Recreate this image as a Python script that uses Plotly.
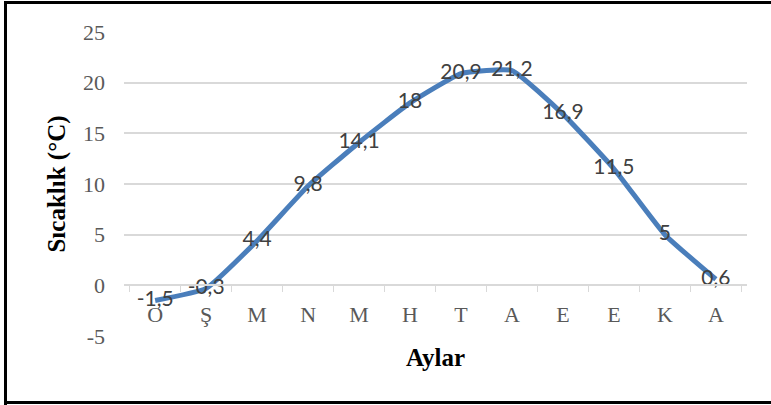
import plotly.graph_objects as go

months = ["Ocak", "Şubat", "Mart", "Nisan", "Mayıs", "Haziran", "Temmuz",
          "Ağustos", "Eylül", "Ekim", "Kasım", "Aralık"]
month_letters = ["O", "Ş", "M", "N", "M", "H", "T", "A", "E", "E", "K", "A"]
temperatures = [-1.5, -0.3, 4.4, 9.8, 14.1, 18, 20.9, 21.2, 16.9, 11.5, 5, 0.6]
y_ticks = [-5, 0, 5, 10, 15, 20, 25]
y_tick_text = ["-5", "0", "5", "10", "15", "20", "25"]

labels = [("%g" % v).replace(".", ",") for v in temperatures]

W, H = 771, 405
L, R, T, B = 124, 24, 32, 69
pw, ph = W - L - R, H - T - B

def px_x(px):
    return (px - L) / pw

def px_y(py):
    return (H - B - py) / ph

fig = go.Figure()
fig.add_trace(go.Scatter(
    x=months, y=temperatures, mode="lines+text",
    line=dict(color="#4a7ebb", width=5, shape="spline", smoothing=0.4),
    text=labels, textposition="middle center",
    textfont=dict(family="Lato", size=21, color="#404040"),
    cliponaxis=False, hoverinfo="skip", showlegend=False,
))

border = dict(color="black", width=3)
fig.add_shape(type="line", xref="paper", yref="paper",
              x0=px_x(5.5), x1=px_x(5.5), y0=px_y(1), y1=px_y(406), line=border)
fig.add_shape(type="line", xref="paper", yref="paper",
              x0=px_x(4), x1=px_x(780), y0=px_y(2.5), y1=px_y(2.5), line=border)
fig.add_shape(type="line", xref="paper", yref="paper",
              x0=px_x(4), x1=px_x(780), y0=px_y(402.5), y1=px_y(402.5), line=border)

fig.update_layout(
    width=W, height=H,
    margin=dict(l=L, r=R, t=T, b=B, autoexpand=False),
    paper_bgcolor="white", plot_bgcolor="white",
    font=dict(family="Liberation Serif", color="#595959", size=22),
    xaxis=dict(
        type="category", anchor="free", position=5 / 30, automargin=False,
        tickmode="array", tickvals=months, ticktext=month_letters,
        tickson="boundaries", ticks="outside", ticklen=6, tickcolor="#d9d9d9",
        ticklabelstandoff=10,
        showline=True, linecolor="#d9d9d9", linewidth=1.5,
        showgrid=False, zeroline=False,
        tickfont=dict(family="Liberation Serif", size=22, color="#595959"),
        title=dict(text="<b>Aylar</b>", standoff=21,
                   font=dict(family="Liberation Serif", size=25, color="black")),
    ),
    yaxis=dict(
        range=[-5, 25], tickmode="array", tickvals=y_ticks, ticktext=y_tick_text,
        automargin=False,
        showgrid=True, gridcolor="#d9d9d9",
        gridwidth=1.5, zeroline=False, showline=False, ticks="",
        ticklabelstandoff=18,
        tickfont=dict(family="Liberation Serif", size=22, color="#595959"),
        title=dict(text="<b>Sıcaklık (°C)</b>", standoff=10,
                   font=dict(family="Liberation Serif", size=25, color="black")),
    ),
)

fig.write_html(
    "out.html",
    config={"displayModeBar": False},
    post_script="document.body.style.margin='0';"
                "document.documentElement.style.overflow='hidden';",
)
